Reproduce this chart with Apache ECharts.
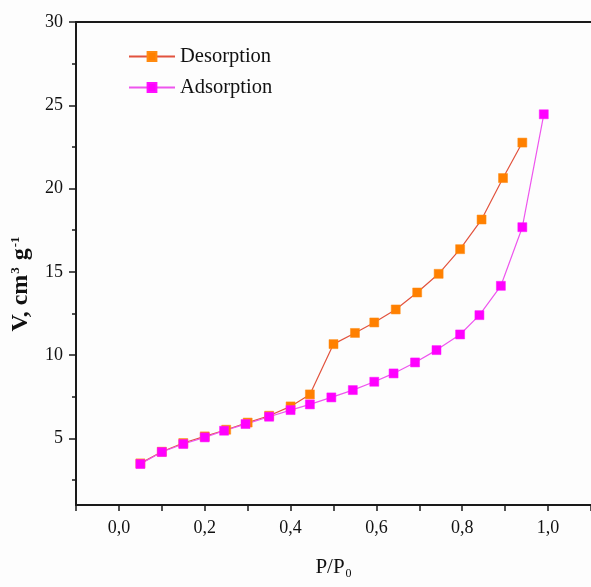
<!DOCTYPE html>
<html>
<head>
<meta charset="utf-8">
<script src="https://cdn.jsdelivr.net/npm/echarts@6/dist/echarts.min.js"></script>
<style>
html,body{margin:0;padding:0;background:#fdfdfd;}
#chart{width:591px;height:587px;}
</style>
</head>
<body>
<div id="chart"></div>
<script>
// ---- data ----
const desorptionP = [0.05, 0.10, 0.15, 0.20, 0.25, 0.30, 0.35, 0.40, 0.445, 0.50, 0.55, 0.595, 0.645, 0.695, 0.745, 0.795, 0.845, 0.895, 0.94];
const desorptionV = [3.50, 4.20, 4.72, 5.12, 5.52, 5.95, 6.36, 6.92, 7.64, 10.66, 11.33, 11.96, 12.74, 13.76, 14.88, 16.36, 18.14, 20.63, 22.76];
const adsorptionP = [0.05, 0.10, 0.15, 0.20, 0.245, 0.295, 0.35, 0.40, 0.445, 0.495, 0.545, 0.595, 0.64, 0.69, 0.74, 0.795, 0.84, 0.89, 0.94, 0.99];
const adsorptionV = [3.46, 4.18, 4.66, 5.06, 5.46, 5.86, 6.30, 6.70, 7.04, 7.46, 7.90, 8.40, 8.90, 9.56, 10.30, 11.24, 12.40, 14.16, 17.68, 24.46];
const xTickValues = [-0.1, 0.0, 0.1, 0.2, 0.3, 0.4, 0.5, 0.6, 0.7, 0.8, 0.9, 1.0, 1.1];
const xLabelValues = [0.0, 0.2, 0.4, 0.6, 0.8, 1.0];
const yMajorValues = [5, 10, 15, 20, 25, 30];
const yMinorValues = [2.5, 7.5, 12.5, 17.5, 22.5, 27.5];
const seriesNames = ['Desorption', 'Adsorption'];

const FONT = "'Liberation Serif', 'Times New Roman', serif";
const AXIS_COLOR = '#1a1a1a';

const pairs = (xs, ys) => xs.map((x, i) => [x, ys[i]]);

const chart = echarts.init(document.getElementById('chart'));
chart.setOption({
  animation: false,
  backgroundColor: '#fdfdfd',
  grid: { left: 76, top: 22, width: 518, bottom: 82, containLabel: false },
  legend: {
    left: 128, top: 46, orient: 'vertical', itemGap: 10, padding: 0,
    itemWidth: 46, itemHeight: 11,
    textStyle: { fontFamily: FONT, fontSize: 20.5, color: '#111' },
    data: seriesNames
  },
  xAxis: [{
    type: 'value', min: -0.1, max: 1.1, interval: 0.1,
    name: '{n|P/P}{s|0}', nameLocation: 'middle', nameGap: 49,
    nameTextStyle: {
      rich: {
        n: { fontFamily: FONT, fontSize: 21, color: '#111' },
        s: { fontFamily: FONT, fontSize: 12, color: '#111', verticalAlign: 'bottom', padding: [14, 0, 0, 1] }
      }
    },
    axisLine: { onZero: false, lineStyle: { color: AXIS_COLOR, width: 2 } },
    axisTick: { customValues: xTickValues, length: 6, lineStyle: { color: AXIS_COLOR, width: 1.5 } },
    axisLabel: {
      customValues: xLabelValues, margin: 14,
      fontFamily: FONT, fontSize: 18, color: '#111',
      formatter: v => v.toFixed(1).replace('.', ',')
    },
    splitLine: { show: false }
  }, {
    type: 'value', position: 'top', min: -0.1, max: 1.1,
    axisLine: { show: true, onZero: false, lineStyle: { color: AXIS_COLOR, width: 2 } },
    axisTick: { show: false }, axisLabel: { show: false }, splitLine: { show: false }
  }],
  yAxis: [{
    type: 'value', min: 1, max: 30,
    name: '{b|V, cm}{s|3}{b| g}{s|-1}', nameLocation: 'middle', nameGap: 43,
    nameTextStyle: {
      padding: [0, 40, 0, 0],
      rich: {
        b: { fontFamily: FONT, fontSize: 24, fontWeight: 'bold', color: '#111' },
        s: { fontFamily: FONT, fontSize: 13, fontWeight: 'bold', color: '#111', verticalAlign: 'top', padding: [0, 1, 10, 1] }
      }
    },
    axisLine: { show: true, onZero: false, lineStyle: { color: AXIS_COLOR, width: 2 } },
    axisTick: { customValues: yMajorValues, length: 7, lineStyle: { color: AXIS_COLOR, width: 1.5 } },
    axisLabel: { customValues: yMajorValues, margin: 13, fontFamily: FONT, fontSize: 18, color: '#111' },
    splitLine: { show: false }
  }, {
    type: 'value', position: 'left', offset: 0, min: 1, max: 30,
    axisLine: { show: false, onZero: false },
    axisTick: { show: true, customValues: yMinorValues, length: 4, lineStyle: { color: AXIS_COLOR, width: 1.5 } },
    axisLabel: { show: false }, splitLine: { show: false }
  }],
  series: [{
    name: seriesNames[0], type: 'line', xAxisIndex: 0, yAxisIndex: 0,
    data: pairs(desorptionP, desorptionV),
    symbol: 'rect', symbolSize: 9, showAllSymbol: true,
    lineStyle: { color: '#e2533e', width: 1.2 },
    itemStyle: { color: '#ff8000', borderColor: '#ff8a10', borderWidth: 0.5 }
  }, {
    name: seriesNames[1], type: 'line', xAxisIndex: 0, yAxisIndex: 0,
    data: pairs(adsorptionP, adsorptionV),
    symbol: 'rect', symbolSize: 9, showAllSymbol: true,
    lineStyle: { color: '#ee55ee', width: 1.2 },
    itemStyle: { color: '#ff00ff', borderColor: '#ff10ff', borderWidth: 0.5 }
  }]
});
</script>
</body>
</html>
